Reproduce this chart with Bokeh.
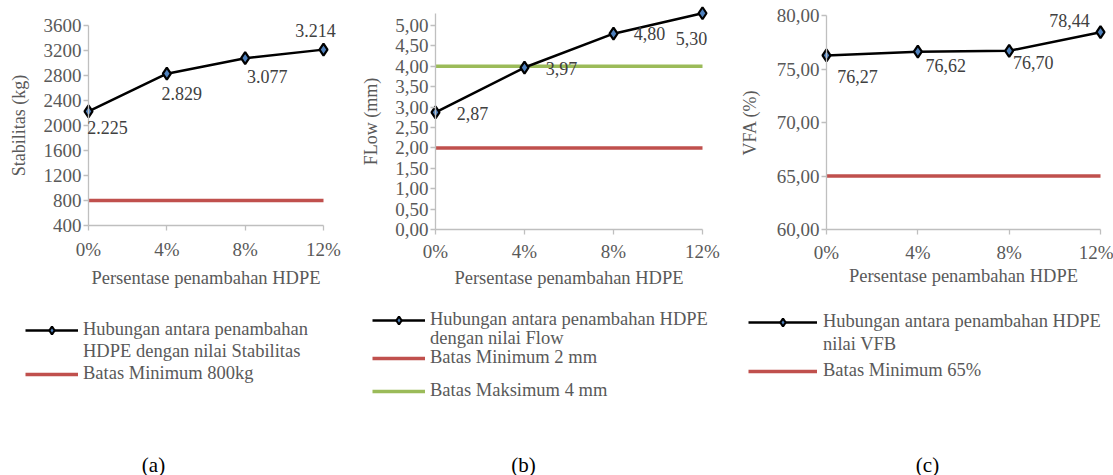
from bokeh.plotting import figure
from bokeh.layouts import row
from bokeh.models import (Range1d, FixedTicker, Legend, LegendItem, LabelSet,
                          Label, ColumnDataSource)
from bokeh.embed import file_html
from bokeh.resources import INLINE

# ---------------- data ----------------
x_pct = [0, 4, 8, 12]
x_tick_labels = ["0%", "4%", "8%", "12%"]

stabilitas = [2225, 2829, 3077, 3214]
stabilitas_text = ["2.225", "2.829", "3.077", "3.214"]
stab_min = 800
stab_ticks = [400, 800, 1200, 1600, 2000, 2400, 2800, 3200, 3600]
stab_tick_labels = ["400", "800", "1200", "1600", "2000", "2400", "2800", "3200", "3600"]

flow = [2.87, 3.97, 4.80, 5.30]
flow_text = ["2,87", "3,97", "4,80", "5,30"]
flow_min = 2
flow_max = 4
flow_ticks = [0, 0.5, 1, 1.5, 2, 2.5, 3, 3.5, 4, 4.5, 5]
flow_tick_labels = ["0,00", "0,50", "1,00", "1,50", "2,00", "2,50", "3,00",
                    "3,50", "4,00", "4,50", "5,00"]

vfa = [76.27, 76.62, 76.70, 78.44]
vfa_text = ["76,27", "76,62", "76,70", "78,44"]
vfa_min = 65
vfa_ticks = [60, 65, 70, 75, 80]
vfa_tick_labels = ["60,00", "65,00", "70,00", "75,00", "80,00"]

# ---------------- style ----------------
FONT = "Liberation Serif"
GREY = "#595959"
AXIS = "#bfbfbf"
RED = "#c0504d"
GREEN = "#9bbb59"
H = 475


def span(v1, p1, v2, p2, size):
    """Range so that value v1 sits at pixel p1 and v2 at pixel p2 of a frame of `size` px."""
    k = (p2 - p1) / (v2 - v1)
    a = v1 + (0 - p1) / k
    b = v1 + (size - p1) / k
    return (min(a, b), max(a, b))


def make_panel(width, xpix, ypix, yvals, ybounds, yticks, ylabels, ylabel,
               xtick_standoff, xlab_standoff, ylab_standoff):
    xr = span(0, xpix[0], 12, xpix[1], width)
    yr = span(yvals[0], ypix[0], yvals[1], ypix[1], H)
    p = figure(width=width, height=H, output_backend="svg", toolbar_location=None,
               x_range=Range1d(*xr), y_range=Range1d(*yr), min_border=0,
               min_border_left=0, min_border_right=0, min_border_top=0,
               min_border_bottom=0)
    p.outline_line_color = None
    p.xgrid.visible = False
    p.ygrid.visible = False
    p.background_fill_color = "white"
    p.border_fill_color = "white"
    for ax in (p.xaxis[0], p.yaxis[0]):
        ax.axis_line_color = AXIS
        ax.axis_line_width = 1.3
        ax.major_tick_line_color = AXIS
        ax.major_tick_line_width = 1.3
        ax.minor_tick_line_color = None
        ax.major_tick_in = 0
        ax.major_tick_out = 5
        ax.major_label_text_font = FONT
        ax.major_label_text_font_size = "19px"
        ax.major_label_text_color = GREY
        ax.axis_label_text_font = FONT
        ax.axis_label_text_font_style = "normal"
        ax.axis_label_text_color = GREY
    xa = p.xaxis[0]
    xa.fixed_location = ybounds[0]
    xa.bounds = (0, 12)
    xa.ticker = FixedTicker(ticks=x_pct)
    xa.major_label_overrides = dict(zip(x_pct, x_tick_labels))
    xa.major_label_standoff = xtick_standoff
    xa.axis_label = "Persentase penambahan HDPE"
    xa.axis_label_text_font_size = "18.5px"
    xa.axis_label_standoff = xlab_standoff
    ya = p.yaxis[0]
    ya.fixed_location = 0
    ya.bounds = ybounds
    ya.ticker = FixedTicker(ticks=yticks)
    ya.major_label_overrides = dict(zip(yticks, ylabels))
    ya.major_label_standoff = 2
    ya.axis_label = ylabel
    ya.axis_label_text_font_size = "18px"
    ya.axis_label_standoff = ylab_standoff
    return p


def add_series(p, ys, texts, offsets, mins, colors):
    src = ColumnDataSource(dict(x=x_pct, y=ys, t=texts,
                                dx=[o[0] for o in offsets],
                                dy=[o[1] for o in offsets]))
    thr = []
    for m, c in zip(mins, colors):
        thr.append(p.line(x=x_pct, y=[m] * len(x_pct), line_color=c, line_width=3.5))
    ln = p.line("x", "y", source=src, line_color="black", line_width=2.5)
    mk = p.scatter("x", "y", source=src, marker="diamond", size=12,
                   line_color="black", line_width=2.2, fill_color="#4f81bd")
    dummy = p.line("x", "y", source=src, line_alpha=0)
    ls = LabelSet(x="x", y="y", text="t", x_offset="dx", y_offset="dy", source=src,
                  text_font=FONT, text_font_size="18px", text_color="#404040",
                  text_align="center", text_baseline="middle")
    p.add_layout(ls)
    return [ln, mk], thr, dummy


def add_legend_row(p, renderers, text, vx, yc, gw, standoff):
    leg = Legend(items=[LegendItem(label=text, renderers=renderers)],
                 location=(vx, H - yc - 10), orientation="vertical", padding=0,
                 margin=0, spacing=0, glyph_width=gw, glyph_height=20,
                 label_height=20, label_standoff=standoff, label_text_font=FONT,
                 label_text_font_size="18.5px", label_text_color=GREY,
                 border_line_alpha=0, background_fill_alpha=0)
    p.add_layout(leg)


def add_caption(p, text, vx, yc):
    p.add_layout(Label(x=vx, y=H - yc, x_units="screen", y_units="screen", text=text,
                       text_font=FONT, text_font_size="21px", text_color="black",
                       text_align="center", text_baseline="middle"))


# ---------------- panel (a): image x 0..360 ----------------
pa = make_panel(360, (88, 323), (225, 25), (400, 3600), (400, 3600),
                stab_ticks, stab_tick_labels, "Stabilitas (kg)", 8, 5, 12)
main_a, thr_a, dum_a = add_series(pa, stabilitas, stabilitas_text,
                                  [(19, -16), (15, -20), (22, -18), (-8, 19)],
                                  [stab_min], [RED])
add_legend_row(pa, main_a, "Hubungan antara penambahan", 25, 330, 53, 5)
add_legend_row(pa, [dum_a], "HDPE dengan nilai Stabilitas", 25, 352, 53, 5)
add_legend_row(pa, thr_a, "Batas Minimum 800kg", 25, 374, 53, 5)
add_caption(pa, "(a)", 153, 464)

# ---------------- panel (b): image x 360..740 ----------------
pb = make_panel(380, (75, 342), (229, 25), (0, 5), (0, 5.3),
                flow_ticks, flow_tick_labels, "FLow (mm)", 6, 3, 11)
main_b, thr_b, dum_b = add_series(pb, flow, flow_text,
                                  [(37, -1), (37, -1), (36, 0), (-11, -25)],
                                  [flow_min, flow_max], [RED, GREEN])
add_legend_row(pb, main_b, "Hubungan antara penambahan HDPE", 12, 320, 53, 5)
add_legend_row(pb, [dum_b], "dengan nilai Flow", 12, 339, 53, 5)
add_legend_row(pb, [thr_b[0]], "Batas Minimum 2 mm", 12, 358, 53, 5)
add_legend_row(pb, [thr_b[1]], "Batas Maksimum 4 mm", 12, 391, 53, 5)
add_caption(pb, "(b)", 163, 464)

# ---------------- panel (c): image x 740..1113 ----------------
pc = make_panel(373, (86, 360), (229, 15), (60, 80), (60, 80),
                vfa_ticks, vfa_tick_labels, "VFA (%)", 7, 0, 14)
main_c, thr_c, dum_c = add_series(pc, vfa, vfa_text,
                                  [(31, -21), (28, -14), (24, -12), (-31, 12)],
                                  [vfa_min], [RED])
add_legend_row(pc, main_c, "Hubungan antara penambahan HDPE", 8, 322, 69, 6)
add_legend_row(pc, [dum_c], "nilai VFB", 8, 345, 69, 6)
add_legend_row(pc, thr_c, "Batas Minimum 65%", 8, 371, 69, 6)
add_caption(pc, "(c)", 187, 464)

layout = row(pa, pb, pc, spacing=0)
open("out.html", "w").write(file_html(layout, INLINE))
